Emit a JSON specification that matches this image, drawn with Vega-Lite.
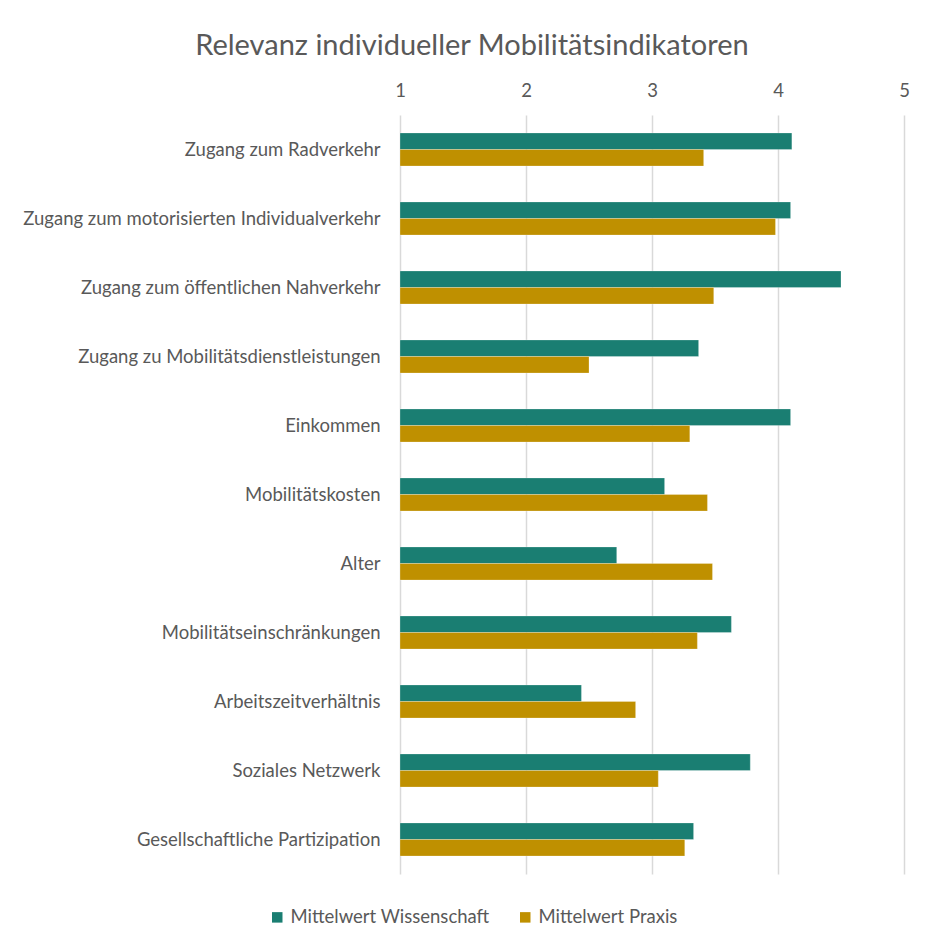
{
  "$schema": "https://vega.github.io/schema/vega-lite/v6.json",
  "autosize": "none",
  "width": 504,
  "height": 759,
  "padding": {"left": 400, "top": 115, "right": 26, "bottom": 69},
  "background": "white",
  "title": {
    "text": "Relevanz individueller Mobilitätsindikatoren",
    "font": "Lato",
    "fontSize": 29,
    "fontWeight": "normal",
    "color": "#595959",
    "anchor": "middle",
    "frame": "group",
    "dx": -180,
    "offset": 20
  },
  "data": {
    "values": [
      {"indicator": "Zugang zum Radverkehr", "series": "Mittelwert Wissenschaft", "value": 4.11},
      {"indicator": "Zugang zum Radverkehr", "series": "Mittelwert Praxis", "value": 3.41},
      {"indicator": "Zugang zum motorisierten Individualverkehr", "series": "Mittelwert Wissenschaft", "value": 4.10},
      {"indicator": "Zugang zum motorisierten Individualverkehr", "series": "Mittelwert Praxis", "value": 3.98},
      {"indicator": "Zugang zum öffentlichen Nahverkehr", "series": "Mittelwert Wissenschaft", "value": 4.50},
      {"indicator": "Zugang zum öffentlichen Nahverkehr", "series": "Mittelwert Praxis", "value": 3.49},
      {"indicator": "Zugang zu Mobilitätsdienstleistungen", "series": "Mittelwert Wissenschaft", "value": 3.37},
      {"indicator": "Zugang zu Mobilitätsdienstleistungen", "series": "Mittelwert Praxis", "value": 2.50},
      {"indicator": "Einkommen", "series": "Mittelwert Wissenschaft", "value": 4.10},
      {"indicator": "Einkommen", "series": "Mittelwert Praxis", "value": 3.30},
      {"indicator": "Mobilitätskosten", "series": "Mittelwert Wissenschaft", "value": 3.10},
      {"indicator": "Mobilitätskosten", "series": "Mittelwert Praxis", "value": 3.44},
      {"indicator": "Alter", "series": "Mittelwert Wissenschaft", "value": 2.72},
      {"indicator": "Alter", "series": "Mittelwert Praxis", "value": 3.48},
      {"indicator": "Mobilitätseinschränkungen", "series": "Mittelwert Wissenschaft", "value": 3.63},
      {"indicator": "Mobilitätseinschränkungen", "series": "Mittelwert Praxis", "value": 3.36},
      {"indicator": "Arbeitszeitverhältnis", "series": "Mittelwert Wissenschaft", "value": 2.44},
      {"indicator": "Arbeitszeitverhältnis", "series": "Mittelwert Praxis", "value": 2.87},
      {"indicator": "Soziales Netzwerk", "series": "Mittelwert Wissenschaft", "value": 3.78},
      {"indicator": "Soziales Netzwerk", "series": "Mittelwert Praxis", "value": 3.05},
      {"indicator": "Gesellschaftliche Partizipation", "series": "Mittelwert Wissenschaft", "value": 3.33},
      {"indicator": "Gesellschaftliche Partizipation", "series": "Mittelwert Praxis", "value": 3.26}
    ]
  },
  "mark": {"type": "bar", "stroke": "white", "strokeWidth": 0.5, "strokeOpacity": 0.5},
  "encoding": {
    "y": {
      "field": "indicator",
      "type": "nominal",
      "sort": null,
      "title": null,
      "scale": {"paddingInner": 0.52, "paddingOuter": 0.26},
      "axis": {
        "ticks": false,
        "domain": false,
        "labelPadding": 20,
        "labelFont": "Lato",
        "labelFontSize": 18.5,
        "labelColor": "#595959",
        "labelLimit": 400
      }
    },
    "yOffset": {
      "field": "series",
      "type": "nominal",
      "sort": ["Mittelwert Wissenschaft", "Mittelwert Praxis"],
      "scale": {"paddingInner": 0, "paddingOuter": 0}
    },
    "x": {
      "field": "value",
      "type": "quantitative",
      "title": null,
      "scale": {"domain": [1, 5], "zero": false, "nice": false},
      "axis": {
        "orient": "top",
        "values": [1, 2, 3, 4, 5],
        "ticks": false,
        "domain": false,
        "grid": true,
        "gridColor": "#d9d9d9",
        "gridWidth": 1.5,
        "labelPadding": 15,
        "labelFlush": false,
        "labelFont": "Lato",
        "labelFontSize": 18.5,
        "labelColor": "#595959",
        "format": "d"
      }
    },
    "x2": {"datum": 1},
    "color": {
      "field": "series",
      "type": "nominal",
      "scale": {
        "domain": ["Mittelwert Wissenschaft", "Mittelwert Praxis"],
        "range": ["#1a7e72", "#bf9000"]
      },
      "legend": {
        "title": null,
        "orient": "none",
        "direction": "horizontal",
        "legendX": -132,
        "legendY": 793,
        "symbolType": "square",
        "symbolSize": 110,
        "symbolStrokeWidth": 0,
        "labelFont": "Lato",
        "labelFontSize": 18.5,
        "labelColor": "#595959",
        "labelOffset": 4,
        "labelLimit": 300,
        "columnPadding": 26
      }
    }
  },
  "config": {"view": {"stroke": null}}
}
